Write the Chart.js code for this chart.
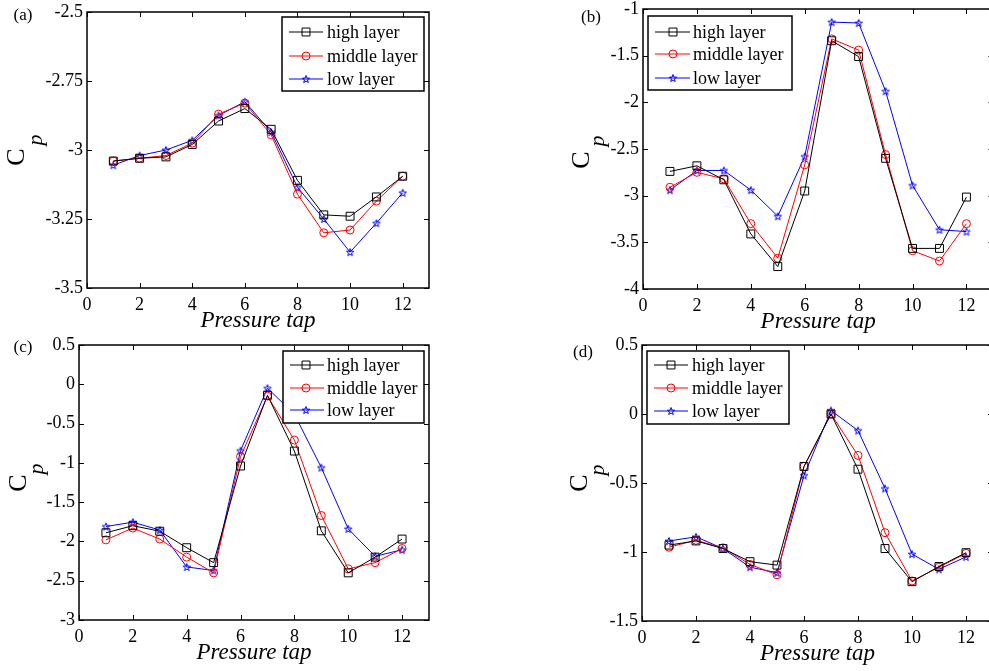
<!DOCTYPE html>
<html>
<head>
<meta charset="utf-8">
<title>Cp vs pressure tap</title>
<script src="https://cdn.jsdelivr.net/npm/chart.js@4.4.1/dist/chart.umd.min.js"></script>
<style>
html, body { margin: 0; padding: 0; background: #fff; overflow: hidden; width: 989px; height: 671px; }
canvas { position: absolute; }
</style>
</head>
<body>
<canvas id="chartA" width="489" height="360" style="left:0px;top:-20px"></canvas>
<canvas id="chartB" width="500" height="360" style="left:500px;top:-20px"></canvas>
<canvas id="chartC" width="489" height="356" style="left:0px;top:315px"></canvas>
<canvas id="chartD" width="500" height="356" style="left:500px;top:315px"></canvas>
<script>
// pressure taps on the x axis
const taps = [1, 2, 3, 4, 5, 6, 7, 8, 9, 10, 11, 12];
const xTicks = [0, 2, 4, 6, 8, 10, 12];
const seriesNames = ['high layer', 'middle layer', 'low layer'];

// (a)
const highA = [-3.04, -3.03, -3.025, -2.98, -2.895, -2.85, -2.925, -3.11, -3.235, -3.24, -3.17, -3.095];
const middleA = [-3.04, -3.03, -3.02, -2.975, -2.87, -2.83, -2.945, -3.16, -3.30, -3.29, -3.185, -3.095];
const lowA = [-3.055, -3.02, -3.0, -2.965, -2.875, -2.825, -2.935, -3.135, -3.25, -3.37, -3.265, -3.155];
const yTicksA = [-3.5, -3.25, -3, -2.75, -2.5];

// (b)
const highB = [-2.74, -2.68, -2.83, -3.41, -3.76, -2.95, -1.34, -1.51, -2.60, -3.565, -3.565, -3.015];
const middleB = [-2.91, -2.75, -2.82, -3.30, -3.67, -2.67, -1.32, -1.44, -2.56, -3.59, -3.70, -3.30];
const lowB = [-2.94, -2.73, -2.73, -2.94, -3.22, -2.58, -1.14, -1.15, -1.88, -2.89, -3.365, -3.385];
const yTicksB = [-4, -3.5, -3, -2.5, -2, -1.5, -1];

// (c)
const highC = [-1.89, -1.80, -1.87, -2.08, -2.27, -1.04, -0.14, -0.85, -1.865, -2.40, -2.20, -1.97];
const middleC = [-1.98, -1.83, -1.97, -2.20, -2.40, -0.92, -0.15, -0.71, -1.67, -2.35, -2.27, -2.09];
const lowC = [-1.81, -1.755, -1.855, -2.325, -2.37, -0.845, -0.05, -0.38, -1.06, -1.84, -2.19, -2.105];
const yTicksC = [-3, -2.5, -2, -1.5, -1, -0.5, 0, 0.5];

// (d)
const highD = [-0.95, -0.92, -0.975, -1.07, -1.095, -0.38, 0, -0.40, -0.975, -1.215, -1.105, -1.005];
const middleD = [-0.965, -0.915, -0.97, -1.09, -1.165, -0.38, 0, -0.30, -0.86, -1.21, -1.11, -1.01];
const lowD = [-0.92, -0.89, -0.975, -1.11, -1.15, -0.445, 0.025, -0.12, -0.54, -1.015, -1.125, -1.035];
const yTicksD = [-1.5, -1, -0.5, 0, 0.5];

const serif = '"Liberation Serif", "Times New Roman", serif';
Chart.defaults.font.family = serif;
Chart.defaults.font.size = 18;
Chart.defaults.color = '#000';

// pentagram marker like matlab 'p'
function makeStar(color) {
    const c = document.createElement('canvas');
    c.width = 10; c.height = 10;
    const g = c.getContext('2d');
    g.strokeStyle = color;
    g.lineWidth = 1;
    g.beginPath();
    for (let k = 0; k < 10; k++) {
        const r = k % 2 ? 1.6 : 3.9;
        const a = -Math.PI / 2 + k * Math.PI / 5;
        const px = 5 + r * Math.cos(a), py = 5.4 + r * Math.sin(a);
        if (k === 0) g.moveTo(px, py); else g.lineTo(px, py);
    }
    g.closePath();
    g.stroke();
    return c;
}
const blueStar = makeStar('#0000ff');

const styles = [
    { color: '#000000', pointStyle: 'rect', radius: 5.6 },
    { color: '#ff0000', pointStyle: 'circle', radius: 4 },
    { color: '#0000ff', pointStyle: blueStar, radius: 5 }
];

// frame, inward ticks, legend box and labels
const paperDecor = {
    id: 'paperDecor',
    afterDraw(chart, args, o) {
        const ctx = chart.ctx;
        const a = chart.chartArea;
        const xs = chart.scales.x, ys = chart.scales.y;
        const ox = o.offset[0], oy = o.offset[1];
        ctx.save();
        ctx.strokeStyle = '#000';
        ctx.lineWidth = 1;
        ctx.beginPath();
        xTicks.forEach(v => {
            const px = Math.round(xs.getPixelForValue(v)) + 0.5;
            ctx.moveTo(px, a.bottom); ctx.lineTo(px, a.bottom - 5);
            ctx.moveTo(px, a.top); ctx.lineTo(px, a.top + 5);
        });
        o.yTicks.forEach(v => {
            const py = Math.round(ys.getPixelForValue(v)) + 0.5;
            ctx.moveTo(a.left, py); ctx.lineTo(a.left + 5, py);
            ctx.moveTo(a.right, py); ctx.lineTo(a.right - 5, py);
        });
        ctx.stroke();
        ctx.lineWidth = 1.5;
        ctx.strokeRect(a.left, a.top, a.right - a.left, a.bottom - a.top);

        // legend
        const lg = o.legend;
        ctx.fillStyle = '#fff';
        ctx.fillRect(lg.box[0] - ox, lg.box[1] - oy, lg.box[2] - lg.box[0], lg.box[3] - lg.box[1]);
        ctx.lineWidth = 1.5;
        ctx.strokeRect(lg.box[0] - ox, lg.box[1] - oy, lg.box[2] - lg.box[0], lg.box[3] - lg.box[1]);
        ctx.font = '18px ' + serif;
        ctx.textBaseline = 'middle';
        ctx.textAlign = 'left';
        chart.data.datasets.forEach((ds, i) => {
            const y = lg.rows[i] - oy;
            ctx.strokeStyle = ds.borderColor;
            ctx.lineWidth = 1;
            ctx.beginPath();
            ctx.moveTo(lg.line[0] - ox, y); ctx.lineTo(lg.line[1] - ox, y);
            ctx.stroke();
            ctx.fillStyle = 'rgba(0,0,0,0)';
            Chart.helpers.drawPoint(ctx, { pointStyle: ds.pointStyle, radius: ds.pointRadius, rotation: 0, borderWidth: 1 }, lg.marker - ox, y);
            ctx.fillStyle = '#000';
            ctx.fillText(ds.label, lg.text - ox, y + 1);
        });

        // panel letter
        ctx.fillStyle = '#000';
        ctx.font = '17px ' + serif;
        ctx.textAlign = 'center';
        ctx.fillText(o.tag, o.tagPos[0] - ox, o.tagPos[1] - oy);

        // x title
        ctx.font = 'italic 23px ' + serif;
        ctx.textBaseline = 'alphabetic';
        ctx.fillText('Pressure tap', (a.left + a.right) / 2, a.bottom + 39);

        // C_p
        ctx.textBaseline = 'middle';
        ctx.save();
        ctx.translate(o.cPos[0] - ox, o.cPos[1] - oy);
        ctx.rotate(-Math.PI / 2);
        ctx.font = '26px ' + serif;
        ctx.fillText('C', 0, 0);
        ctx.restore();
        ctx.save();
        ctx.translate(o.pPos[0] - ox, o.pPos[1] - oy);
        ctx.rotate(-Math.PI / 2);
        ctx.font = 'italic 22px ' + serif;
        ctx.fillText('p', 0, 0);
        ctx.restore();
        ctx.restore();
    }
};

function makePanel(id, values, yTicks, geo, decor) {
    const datasets = values.map((vals, i) => ({
        label: seriesNames[i],
        data: taps.map((t, k) => ({ x: t, y: vals[k] })),
        borderColor: styles[i].color,
        backgroundColor: 'rgba(0,0,0,0)',
        borderWidth: 1,
        pointStyle: styles[i].pointStyle,
        pointRadius: styles[i].radius,
        pointBorderWidth: 1,
        pointBackgroundColor: 'rgba(0,0,0,0)',
        pointBorderColor: styles[i].color,
        tension: 0
    }));
    const cv = document.getElementById(id);
    return new Chart(cv.getContext('2d'), {
        type: 'line',
        data: { datasets },
        options: {
            responsive: false,
            animation: false,
            events: [],
            layout: { padding: { left: 0, top: geo.top, right: geo.right, bottom: geo.bottom } },
            plugins: {
                legend: { display: false },
                tooltip: { enabled: false },
                paperDecor: Object.assign({ yTicks }, decor)
            },
            scales: {
                x: {
                    type: 'linear',
                    min: 0, max: 13,
                    grid: { display: false, drawTicks: false },
                    border: { display: false },
                    ticks: { padding: 6, maxRotation: 0, callback: v => String(v) },
                    afterBuildTicks: s => { s.ticks = xTicks.map(v => ({ value: v })); },
                    afterFit: s => { s.height = 30; }
                },
                y: {
                    type: 'linear',
                    min: yTicks[0], max: yTicks[yTicks.length - 1],
                    grid: { display: false, drawTicks: false },
                    border: { display: false },
                    ticks: { padding: 4, callback: v => String(v) },
                    afterBuildTicks: s => { s.ticks = yTicks.map(v => ({ value: v })); },
                    afterFit: s => { s.width = geo.yWidth; }
                }
            }
        },
        plugins: [paperDecor]
    });
}

makePanel('chartA', [highA, middleA, lowA], yTicksA,
    { top: 32, right: 60, bottom: 22, yWidth: 87 },
    { offset: [0, -20], tag: '(a)', tagPos: [23, 16], cPos: [17, 157], pPos: [36, 140],
      legend: { box: [282, 17, 424, 91], line: [289, 323], marker: 306, text: 327, rows: [32, 56, 79] } });

makePanel('chartB', [highB, middleB, lowB], yTicksB,
    { top: 29, right: 4, bottom: 21, yWidth: 143 },
    { offset: [500, -20], tag: '(b)', tagPos: [591, 18], cPos: [582, 160], pPos: [598, 141],
      legend: { box: [648, 16, 792, 90], line: [655, 690], marker: 673, text: 693, rows: [32, 54, 78] } });

makePanel('chartC', [highC, middleC, lowC], yTicksC,
    { top: 30, right: 60, bottom: 21, yWidth: 79 },
    { offset: [0, 315], tag: '(c)', tagPos: [23, 348], cPos: [19, 483], pPos: [37, 469],
      legend: { box: [283, 351, 424, 423], line: [290, 324], marker: 306, text: 327, rows: [365, 388, 410] } });

makePanel('chartD', [highD, middleD, lowD], yTicksD,
    { top: 30, right: 7, bottom: 20, yWidth: 142 },
    { offset: [500, 315], tag: '(d)', tagPos: [583, 353], cPos: [580, 483], pPos: [598, 470],
      legend: { box: [647, 351, 789, 424], line: [654, 688], marker: 671, text: 692, rows: [365, 388, 411] } });
</script>
</body>
</html>
